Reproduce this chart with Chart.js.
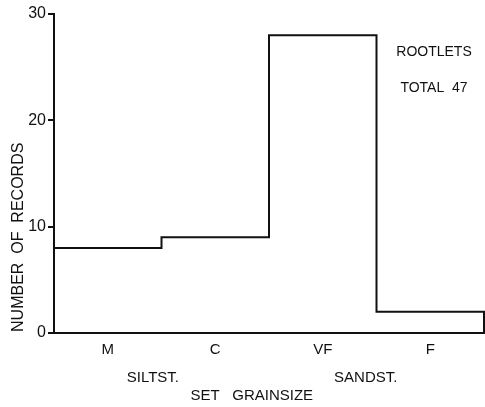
<!DOCTYPE html>
<html>
<head>
<meta charset="utf-8">
<script src="https://cdn.jsdelivr.net/npm/chart.js@4/dist/chart.umd.min.js"></script>
<style>
  html, body { margin: 0; padding: 0; background: #fff; }
  #wrap { width: 485px; height: 407px; }
</style>
</head>
<body>
<div id="wrap"><canvas id="c" width="485" height="407"></canvas></div>
<script>
// Grain-size classes and number of rootlet records in each
const categories = ['M', 'C', 'VF', 'F'];
const counts = [8, 9, 28, 2];
const yTicks = [0, 10, 20, 30];
const groupLabels = ['SILTST.', 'SANDST.'];
const legendTitle = 'ROOTLETS';
const xTitle = 'SET   GRAINSIZE';
const yTitle = 'NUMBER  OF  RECORDS';

const INK = '#111111';
const FONT = '"Liberation Sans", Arial, sans-serif';

// Step outline: each class occupies one unit on the x scale
const pts = counts.map((v, i) => ({ x: i, y: v }));
pts.push({ x: counts.length, y: counts[counts.length - 1] });
pts.push({ x: counts.length, y: 0 });

const total = counts.reduce((a, b) => a + b, 0);

const textPlugin = {
  id: 'extraText',
  afterDraw(chart) {
    const ctx = chart.ctx;
    const xs = chart.scales.x;
    const ys = chart.scales.y;
    ctx.save();
    ctx.fillStyle = INK;
    ctx.textAlign = 'center';
    ctx.textBaseline = 'middle';
    ctx.font = '15px ' + FONT;
    // rock-type labels below the class labels
    ctx.fillText(groupLabels[0], xs.getPixelForValue(0.92), 378);
    ctx.fillText(groupLabels[1], xs.getPixelForValue(2.9), 378);
    // axis title under the classes
    ctx.fillText(xTitle, xs.getPixelForValue(1.84), 396);
    // key text in upper right
    ctx.font = '14px ' + FONT;
    ctx.fillText(legendTitle, 434, 52);
    ctx.fillText('TOTAL  ' + total, 434, 88);
    // vertical axis title
    ctx.font = '16px ' + FONT;
    ctx.translate(19, ys.getPixelForValue(9.0));
    ctx.rotate(-Math.PI / 2);
    ctx.fillText(yTitle, 0, 0);
    ctx.restore();
  }
};

new Chart(document.getElementById('c'), {
  type: 'line',
  data: {
    datasets: [{
      data: pts,
      stepped: 'before',
      borderColor: INK,
      borderWidth: 2,
      pointRadius: 0,
      fill: false
    }]
  },
  options: {
    responsive: false,
    animation: false,
    clip: false,
    layout: { padding: { top: 14, right: 1, left: 0, bottom: 0 } },
    plugins: { legend: { display: false }, tooltip: { enabled: false } },
    scales: {
      x: {
        type: 'linear',
        min: 0,
        max: categories.length,
        grid: { display: false, drawTicks: false },
        border: { display: true, color: INK, width: 2 },
        afterBuildTicks(scale) {
          scale.ticks = categories.map((_, i) => ({ value: i + 0.5 }));
        },
        afterFit(scale) { scale.height = 74; },
        ticks: {
          color: INK,
          font: { family: FONT, size: 15 },
          padding: 8,
          maxRotation: 0,
          autoSkip: false,
          callback: (v) => categories[Math.round(v - 0.5)]
        }
      },
      y: {
        min: 0,
        max: 30,
        grid: { drawOnChartArea: false, drawTicks: true, tickLength: 6, color: INK, lineWidth: 2 },
        border: { display: true, color: INK, width: 2 },
        afterBuildTicks(scale) {
          scale.ticks = yTicks.map(v => ({ value: v }));
        },
        afterFit(scale) { scale.width = 54; },
        ticks: {
          color: INK,
          font: { family: FONT, size: 16 },
          padding: 2
        }
      }
    }
  },
  plugins: [textPlugin]
});
</script>
</body>
</html>
